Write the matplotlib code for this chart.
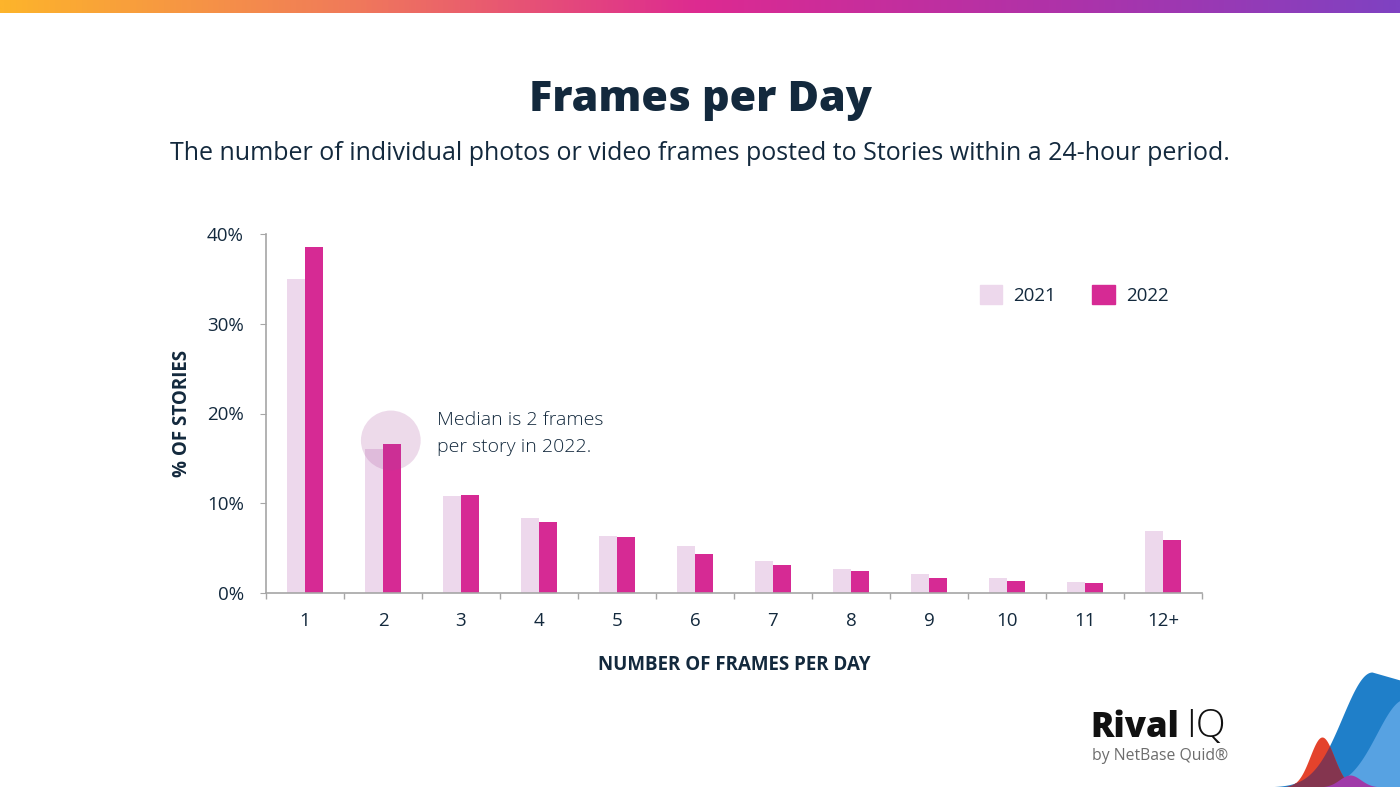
import numpy as np
import matplotlib
matplotlib.use("Agg")
import matplotlib.pyplot as plt
from matplotlib.colors import LinearSegmentedColormap
from matplotlib.patches import Patch

plt.rcParams['font.family'] = ['Open Sans', 'DejaVu Sans']

# data
categories = ["1", "2", "3", "4", "5", "6", "7", "8", "9", "10", "11", "12+"]
share_2021 = [35.0, 16.0, 10.8, 8.35, 6.35, 5.25, 3.6, 2.7, 2.15, 1.7, 1.25, 6.95]
share_2022 = [38.6, 16.6, 10.9, 7.9, 6.2, 4.35, 3.15, 2.45, 1.7, 1.35, 1.15, 5.95]
y_ticks = [0, 10, 20, 30, 40]
median_cat = 1
median_val = 17.0

TEXT = "#13293d"
C21 = "#edd8ec"
C22 = "#d62a94"
GRID = "#a6a6a6"

fig = plt.figure(figsize=(14, 7.87), dpi=100)

# gradient strip along the top
top = fig.add_axes([0, 1 - 13 / 787, 1, 13 / 787])
grad = LinearSegmentedColormap.from_list("strip", ["#fdb42b", "#f07a5a", "#dd2a91", "#b032a8", "#7f42c2"])
top.imshow(np.linspace(0, 1, 512)[None, :], aspect="auto", cmap=grad, extent=[0, 1, 0, 1])
top.axis("off")

fig.text(0.5, 1 - 100 / 787, "Frames per Day", ha="center", va="center",
         fontsize=31, fontweight="heavy", color=TEXT)
fig.text(0.5, 1 - 154 / 787,
         "The number of individual photos or video frames posted to Stories within a 24-hour period.",
         ha="center", va="center", fontsize=18, color=TEXT)

ax = fig.add_axes([266 / 1400, 1 - 593 / 787, 936 / 1400, 359 / 787])
x = np.arange(len(categories))
w = 0.225
ax.bar(x - w / 2, share_2021, w, color=C21, label="2021", zorder=2)
ax.bar(x + w / 2, share_2022, w, color=C22, label="2022", zorder=2)

# highlight circle for the median
ax.scatter([median_cat + 0.1], [median_val], s=1850, color="#a8489a", alpha=0.2,
           edgecolors="none", zorder=3)
ax.text(median_cat + 0.69, median_val + 0.75, "Median is 2 frames\nper story in 2022.",
        ha="left", va="center", fontsize=14, fontweight="light", color=TEXT, linespacing=1.6)

ax.set_xlim(-0.5, len(categories) - 0.5)
ax.set_ylim(0, 40)
ax.set_yticks(y_ticks)
ax.set_yticklabels([f"{t}%" for t in y_ticks])
ax.set_xticks(x)
ax.set_xticklabels(categories)
ax.set_xticks(np.arange(-0.5, len(categories)), minor=True)
ax.tick_params(axis="x", which="major", length=0, pad=14, labelsize=13.5, labelcolor=TEXT)
ax.tick_params(axis="x", which="minor", length=4, color=GRID, width=1)
ax.tick_params(axis="y", length=4, color=GRID, pad=12, labelsize=13.5, labelcolor=TEXT)
for s in ["top", "right"]:
    ax.spines[s].set_visible(False)
for s in ["left", "bottom"]:
    ax.spines[s].set_color(GRID)
    ax.spines[s].set_linewidth(1.2)

ax.set_ylabel("% OF STORIES", fontsize=13.5, fontweight="bold", color=TEXT, labelpad=11)
ax.set_xlabel("NUMBER OF FRAMES PER DAY", fontsize=13.5, fontweight="bold", color=TEXT, labelpad=18)

handles = [Patch(color=C21, label="2021"), Patch(color=C22, label="2022")]
ax.legend(handles=handles, loc="center left", bbox_to_anchor=(963 / 1400, 1 - 295 / 787),
          bbox_transform=fig.transFigure, ncol=2, frameon=False, fontsize=13.5,
          handlelength=1.2, handleheight=1.2, columnspacing=1.9, handletextpad=0.6,
          labelcolor=TEXT)

# logo
fig.text(1090 / 1400, 1 - 728 / 787, "Rival", ha="left", va="center", fontsize=25,
         fontweight="heavy", color="#111111")
fig.text(1186 / 1400, 1 - 727 / 787, "IQ", ha="left", va="center", fontsize=28,
         fontweight="light", color="#111111")
fig.text(1092 / 1400, 1 - 756 / 787, "by NetBase Quid\u00ae", ha="left", va="center",
         fontsize=11.3, color="#6d6d6d")

# decorative waves bottom-right
deco = fig.add_axes([1260 / 1400, 0, 140 / 1400, 120 / 787])
xs = np.linspace(1260, 1400, 300)
blue = 115 * np.exp(-((xs - 1372) / 42) ** 2)
blue[xs > 1372] = 115 - 8 * ((xs[xs > 1372] - 1372) / 28)
light = 88 * np.exp(-((xs - 1405) / 40) ** 2)
red = 50 * np.exp(-((xs - 1322) / 17) ** 2)
deco.fill_between(xs, 0, blue, color="#1f7fc9", lw=0)
deco.fill_between(xs, 0, light, color="#57a2e2", lw=0)
deco.fill_between(xs, 0, red, color="#e4432c", lw=0)
deco.fill_between(xs, 0, np.minimum(red, blue), color="#84354f", lw=0)
purple = 12 * np.exp(-((xs - 1350) / 15) ** 2)
deco.fill_between(xs, 0, purple, color="#a03aa8", lw=0)
deco.set_xlim(1260, 1400)
deco.set_ylim(0, 120)
deco.axis("off")

fig.savefig("out.png", dpi=100)
